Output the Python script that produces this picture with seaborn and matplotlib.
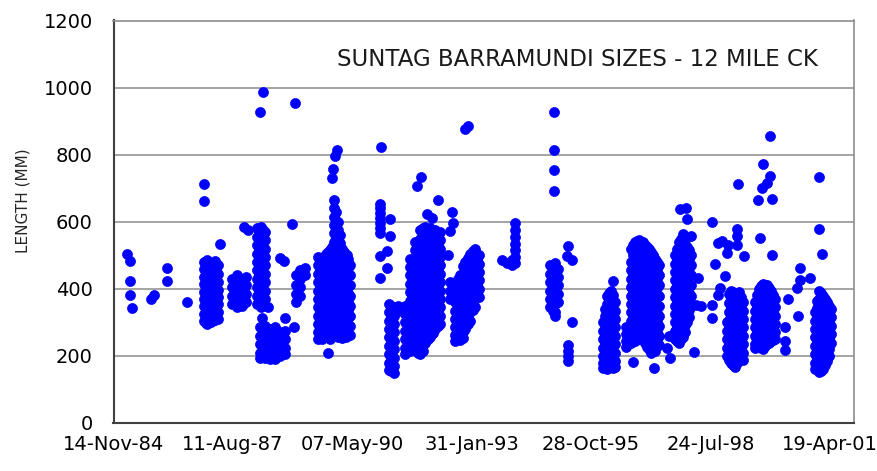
import matplotlib
matplotlib.use("Agg")
import matplotlib.pyplot as plt
import seaborn as sns
import pandas as pd

# x values are Excel date serials (31000 = 14-Nov-84); each entry: (sample date serial, [lengths in mm])
trips_1985_1987 = [
    (31113, [505]),
    (31138, [482, 424, 383]),
    (31155, [343]),
    (31310, [370]),
    (31335, [383]),
    (31452, [462, 424]),
    (31616, [361]),
    (31758, [714, 663, 480, 458, 436, 414, 392, 370, 348, 326, 304]),
    (31772, [472, 450, 428, 406, 384, 362, 340, 318, 298]),
    (31787, [485, 462, 440, 418, 396, 374, 352, 330, 308, 295]),
    (31817, [475, 452, 430, 408, 386, 364, 342, 320, 300]),
    (31831, [470, 448, 426, 404, 382, 360, 338, 316]),
    (31846, [482, 460, 438, 416, 394, 372, 350, 328, 306]),
    (31860, [475, 452, 430, 408, 386, 364, 342, 320]),
    (31875, [470, 445, 420, 398, 376, 354, 332, 310]),
    (31889, [535]),
    (31992, [430, 405, 380, 355]),
    (32034, [440, 415, 390, 365, 345]),
    (32076, [425, 400, 375, 350]),
    (32093, [583]),
    (32110, [435, 410, 385, 360]),
    (32126, [575]),
]

trips_1988_1990 = [
    (32202, [580, 555, 530, 505, 480, 455, 430, 405, 380, 355]),
    (32218, [568, 542, 518, 492, 468, 442, 418, 392, 368]),
    (32227, [926, 285, 260, 235, 210, 195]),
    (32235, [585, 560, 535, 510, 485, 460, 435, 410, 385, 360, 345]),
    (32241, [313]),
    (32252, [575, 548, 522, 498, 472, 448, 422, 398, 372, 352]),
    (32254, [986]),
    (32269, [570, 545, 520, 495, 470, 445, 420, 395, 370, 290, 265, 240, 215, 195]),
    (32294, [347]),
    (32311, [280, 255, 230, 205, 190]),
    (32353, [285, 260, 235, 210, 192]),
    (32394, [492, 270, 245, 220, 200]),
    (32430, [482]),
    (32436, [313, 275, 250, 225, 205]),
    (32495, [594]),
    (32512, [287]),
    (32520, [953]),
    (32528, [440, 410, 385, 360]),
    (32562, [455, 430, 405, 380]),
    (32604, [462, 440]),
    (32713, [495, 470, 445, 420, 395, 370, 345, 320, 295, 270, 250]),
    (32730, [480, 458, 432, 408, 382, 358, 332, 308, 282, 260]),
    (32746, [490, 465, 440, 415, 390, 365, 340, 315, 290, 268, 250]),
    (32763, [495, 470, 445, 420, 395, 370, 345, 320, 295, 272]),
    (32780, [505, 480, 455, 430, 405, 380, 355, 330, 305, 280, 258]),
    (32797, [510, 478, 452, 428, 402, 378, 352, 328, 302, 278, 258]),
    (32799, [208]),
    (32813, [515, 490, 465, 440, 415, 390, 365, 340, 315, 290, 265, 250]),
    (32830, [525, 502, 478, 452, 428, 402, 378, 352, 328, 302, 278]),
    (32832, [731]),
    (32841, [756]),
    (32847, [665, 640, 615, 590, 565, 540, 515, 490, 465, 440, 415, 390, 365, 340, 315, 290, 268]),
    (32855, [796]),
    (32864, [628, 602, 578, 552, 528, 502, 478, 452, 428, 402, 378, 352, 328, 302, 280]),
    (32869, [814]),
    (32880, [600, 575, 550, 525, 500, 475, 450, 425, 400, 375, 350, 325, 300, 275, 255]),
    (32897, [560, 538, 512, 488, 462, 438, 412, 388, 362, 338, 312, 288, 262]),
    (32914, [520, 495, 470, 445, 420, 395, 370, 345, 320, 295, 270, 252]),
    (32930, [510, 482, 458, 432, 408, 382, 358, 332, 308, 282, 262]),
    (32947, [500, 475, 450, 425, 400, 375, 350, 325, 300, 275, 255]),
    (32953, [502]),
    (32964, [488, 462, 438, 412, 388, 362, 338, 312, 285, 265]),
    (32981, [470, 440, 410, 380, 350, 320, 290, 262]),
]

trips_1991_1993 = [
    (33232, [652, 640, 627, 612, 597, 582, 567, 497, 432]),
    (33238, [824]),
    (33291, [512, 462]),
    (33307, [355, 330, 305, 280, 255, 230, 205, 180, 158]),
    (33316, [607, 557]),
    (33328, [348, 322, 298, 272, 248, 222, 198, 172, 155]),
    (33349, [345, 320, 295, 270, 245, 220, 195, 170, 150]),
    (33383, [350, 335]),
    (33441, [350, 325, 300, 275, 250, 225, 205]),
    (33483, [490, 465, 440, 415, 390, 365, 340, 315, 290, 265, 240, 215]),
    (33504, [478, 452, 428, 402, 378, 352, 328, 302, 278, 252, 228]),
    (33525, [540, 515, 490, 465, 440, 415, 390, 365, 340, 315, 290, 265, 240]),
    (33539, [707]),
    (33546, [528, 502, 478, 452, 428, 402, 378, 352, 328, 302, 278, 252, 228, 210]),
    (33567, [575, 550, 525, 500, 475, 450, 425, 400, 375, 350, 325, 300, 275, 250, 225, 205]),
    (33575, [734]),
    (33588, [580, 562, 538, 512, 488, 462, 438, 412, 388, 362, 338, 312, 288, 262, 238, 215]),
    (33609, [585, 560, 535, 510, 485, 460, 435, 410, 385, 360, 335, 310, 285, 260, 240]),
    (33623, [622]),
    (33630, [572, 548, 522, 498, 472, 448, 422, 398, 372, 348, 322, 298, 272, 250]),
    (33651, [580, 555, 530, 505, 480, 455, 430, 405, 380, 355, 330, 305, 280, 255]),
    (33665, [612]),
    (33672, [568, 542, 518, 492, 468, 442, 418, 392, 368, 342, 318, 292, 268]),
    (33693, [575, 550, 525, 500, 475, 450, 425, 400, 375, 350, 325, 300, 280]),
    (33714, [562, 538, 512, 488, 462, 438, 412, 388, 362, 338, 312, 290]),
    (33715, [664]),
    (33718, [299]),
    (33734, [570, 545, 520, 495, 470, 445, 420, 395, 370, 345, 320, 295]),
    (33804, [502]),
    (33818, [572, 420, 395, 370]),
    (33832, [629]),
    (33846, [597]),
    (33860, [410, 385, 360, 335, 310, 285, 262, 245]),
    (33881, [428, 402, 378, 352, 328, 302, 278, 255]),
    (33902, [440, 415, 390, 365, 340, 315, 290, 268, 248]),
    (33923, [468, 442, 418, 392, 368, 342, 318, 292, 270, 252]),
    (33944, [876, 480, 455, 430, 405, 380, 355, 330, 305, 280]),
    (33965, [492, 468, 442, 418, 392, 368, 342, 318, 295]),
    (33966, [886]),
    (33986, [505, 480, 455, 430, 405, 380, 355, 330, 305]),
    (34007, [512, 488, 462, 438, 412, 388, 362, 338]),
    (34028, [520, 495, 470, 445, 420, 395, 370, 345]),
    (34045, [488, 462, 438, 412, 388]),
    (34061, [500, 475, 450, 425, 400, 375]),
]

trips_1993_1995 = [
    (34251, [487]),
    (34293, [477]),
    (34337, [485, 470]),
    (34363, [595, 575, 555, 535, 515, 495, 478]),
    (34656, [470, 445, 420, 395, 370, 345]),
    (34677, [458, 432, 408, 382, 358, 335]),
    (34692, [926, 814, 753, 693]),
    (34698, [478, 455, 430, 405, 380, 355, 330, 320]),
    (34723, [460, 435, 410, 385, 360]),
    (34796, [497]),
    (34806, [232, 215, 200, 185]),
    (34809, [527]),
    (34837, [487, 301]),
]

trips_1996_1998 = [
    (35100, [300, 275, 250, 225, 200, 180, 165]),
    (35117, [340, 318, 292, 268, 242, 218, 192, 170]),
    (35133, [380, 355, 330, 305, 280, 255, 230, 205, 180, 162]),
    (35150, [388, 362, 338, 312, 288, 262, 238, 212, 188, 166]),
    (35167, [395, 370, 345, 320, 295, 270, 245, 220, 195, 172]),
    (35184, [382, 358, 332, 308, 282, 258, 232, 208, 182, 165]),
    (35186, [422]),
    (35200, [360, 335, 310, 285, 260, 235, 210, 185, 168]),
    (35292, [285, 265, 245, 228]),
    (35334, [520, 480, 455, 430, 405, 380, 355, 330, 305, 280, 258, 238]),
    (35351, [530, 502, 468, 442, 418, 392, 368, 342, 318, 292, 270, 250]),
    (35353, [183]),
    (35368, [540, 515, 490, 465, 440, 415, 390, 365, 340, 315, 290, 265, 245]),
    (35385, [542, 528, 502, 478, 452, 428, 402, 378, 352, 328, 302, 278, 258]),
    (35401, [545, 520, 495, 470, 445, 420, 395, 370, 345, 320, 295, 270, 250]),
    (35418, [535, 508, 482, 458, 432, 408, 382, 358, 332, 308, 282, 260]),
    (35435, [540, 515, 490, 465, 440, 415, 390, 365, 340, 315, 290, 265]),
    (35452, [532, 508, 482, 458, 432, 408, 382, 358, 332, 308, 282, 258, 238]),
    (35468, [525, 500, 475, 450, 425, 400, 375, 350, 325, 300, 275, 250, 228]),
    (35485, [518, 492, 468, 442, 418, 392, 368, 342, 318, 292, 268, 245, 220]),
    (35502, [510, 485, 460, 435, 410, 385, 360, 335, 310, 285, 260, 235, 210]),
    (35518, [500, 478, 452, 428, 402, 378, 352, 328, 302, 278, 252, 228]),
    (35527, [164]),
    (35535, [490, 465, 440, 415, 390, 365, 340, 315, 290, 265, 240, 215]),
    (35552, [480, 455, 428, 402, 378, 352, 328, 302, 275, 250]),
    (35569, [470, 440, 410, 380, 350, 320, 290, 260, 232]),
    (35633, [223]),
    (35652, [258]),
    (35661, [193]),
    (35703, [500, 475, 450, 425, 400, 375, 350, 325, 300, 275, 250]),
    (35720, [520, 488, 462, 438, 412, 388, 362, 338, 312, 288, 262, 245]),
    (35736, [540, 515, 490, 465, 440, 415, 390, 365, 340, 315, 290, 265, 240]),
    (35744, [637]),
    (35753, [550, 528, 502, 478, 452, 428, 402, 378, 352, 328, 302, 278, 250]),
    (35770, [562, 530, 505, 480, 455, 430, 405, 380, 355, 330, 305, 280, 255]),
    (35787, [545, 518, 492, 468, 442, 418, 392, 368, 342, 318, 292, 270]),
    (35795, [642]),
    (35803, [607, 525, 500, 475, 450, 425, 400, 375, 350, 325, 300]),
    (35820, [515, 488, 462, 438, 412, 388, 362, 338, 315]),
    (35837, [557, 500, 470, 440, 410, 380, 350]),
    (35864, [213]),
    (35878, [353]),
    (35898, [432]),
    (35920, [348]),
]

trips_1998_2001 = [
    (36010, [353, 313]),
    (36015, [600]),
    (36040, [475]),
    (36065, [537, 383]),
    (36079, [403]),
    (36094, [542]),
    (36121, [437]),
    (36136, [507]),
    (36138, [300, 275, 250, 225, 200]),
    (36149, [532]),
    (36155, [385, 358, 332, 308, 282, 258, 232, 208, 188]),
    (36172, [395, 370, 345, 320, 295, 270, 245, 220, 195, 178]),
    (36188, [390, 382, 358, 332, 308, 282, 258, 232, 208, 182, 172]),
    (36205, [385, 360, 335, 310, 285, 260, 235, 210, 185, 168]),
    (36219, [577, 557, 532]),
    (36222, [388, 378, 352, 328, 302, 278, 252, 228, 202, 180]),
    (36233, [714]),
    (36239, [390, 365, 340, 315, 290, 265, 240, 215, 192]),
    (36255, [375, 352, 328, 302, 278, 252, 228, 202]),
    (36272, [360, 335, 310, 285, 260, 235, 210, 188]),
    (36283, [497]),
    (36373, [360, 335, 310, 285, 260, 235, 225]),
    (36390, [382, 348, 322, 298, 272, 248, 232]),
    (36400, [664]),
    (36406, [400, 375, 350, 325, 300, 275, 250, 228]),
    (36414, [552]),
    (36423, [408, 388, 362, 338, 312, 288, 262, 238, 225]),
    (36429, [701]),
    (36437, [771]),
    (36440, [415, 390, 365, 340, 315, 290, 265, 240, 222]),
    (36456, [412, 402, 378, 352, 328, 302, 278, 252, 230]),
    (36471, [716]),
    (36473, [410, 385, 360, 335, 310, 285, 260, 238]),
    (36490, [402, 398, 372, 348, 322, 298, 272, 250, 240]),
    (36498, [857, 737]),
    (36507, [395, 370, 345, 320, 295, 270, 245]),
    (36512, [502]),
    (36517, [667]),
    (36523, [382, 358, 332, 308, 282, 258, 248]),
    (36540, [370, 345, 320, 295, 270, 250]),
    (36623, [287, 243, 218]),
    (36651, [370]),
    (36722, [402]),
    (36735, [318]),
    (36749, [462, 427]),
    (36833, [432]),
    (36875, [330, 305, 280, 255, 230, 205, 180, 160]),
    (36892, [365, 342, 318, 292, 268, 242, 218, 192, 165]),
    (36909, [395, 370, 345, 320, 295, 270, 245, 220, 195, 170, 152]),
    (36911, [734, 577]),
    (36925, [388, 368, 342, 318, 292, 268, 242, 218, 192, 168, 155]),
    (36936, [504]),
    (36942, [380, 355, 330, 305, 280, 255, 230, 205, 180, 160]),
    (36959, [370, 348, 322, 298, 272, 248, 222, 198, 172]),
    (36976, [360, 335, 310, 285, 260, 235, 210, 185]),
    (36992, [350, 322, 298, 272, 248, 222, 200]),
    (37009, [340, 315, 290, 265, 240]),
]

x_tick_serials = [31000, 32000, 33000, 34000, 35000, 36000, 37000]
y_ticks = [0, 200, 400, 600, 800, 1000, 1200]
title_text = "SUNTAG BARRAMUNDI SIZES - 12 MILE CK"
y_label = "LENGTH (MM)"

rows = []
for trips in (trips_1985_1987, trips_1988_1990, trips_1991_1993,
              trips_1993_1995, trips_1996_1998, trips_1998_2001):
    for serial, lengths in trips:
        for length in lengths:
            rows.append((serial, length))
df = pd.DataFrame(rows, columns=["date_serial", "length_mm"])

sns.set_style("white")
plt.rcParams["font.family"] = ["DejaVu Sans"]

W, H = 877, 471
fig = plt.figure(figsize=(W / 100, H / 100), dpi=100)
fig.patch.set_facecolor("white")
left, right, top, bottom = 113.5, 853.8, 20.5, 423.0
ax = fig.add_axes([left / W, 1 - bottom / H, (right - left) / W, (bottom - top) / H])

sns.scatterplot(data=df, x="date_serial", y="length_mm", ax=ax,
                color="#0000ff", edgecolor="#0000ff", s=52, linewidth=0.5,
                legend=False, zorder=3)

ax.set_xlim(31000, 37200)
ax.set_ylim(0, 1200)
ax.set_xticks(x_tick_serials)
ax.set_xticklabels(pd.to_datetime(x_tick_serials, unit="D", origin="1899-12-30").strftime("%d-%b-%y"))
ax.set_yticks(y_ticks)
ax.set_yticklabels([str(v) for v in y_ticks])

ax.yaxis.grid(True, color="#8c8c8c", linewidth=1.1)
ax.xaxis.grid(False)
ax.set_axisbelow(True)

for side in ("left", "bottom"):
    ax.spines[side].set_color("#404040")
    ax.spines[side].set_linewidth(1.5)
for side in ("top", "right"):
    ax.spines[side].set_color("#8c8c8c")
    ax.spines[side].set_linewidth(1.2)

ax.tick_params(axis="both", which="major", direction="out", color="#404040",
               width=1.2, labelcolor="black")
ax.tick_params(axis="x", length=5, pad=4, labelsize=14)
ax.tick_params(axis="y", length=5, pad=10, labelsize=14)

ax.set_xlabel("")
ax.set_ylabel(y_label, fontsize=11, va="center")
ax.yaxis.set_label_coords(-0.1222, 0.552)

ax.text(0.627, 0.902, title_text, transform=ax.transAxes, ha="center", va="center",
        fontsize=16.5, color="#1a1a1a")

fig.savefig("out.png", dpi=100, facecolor="white")
